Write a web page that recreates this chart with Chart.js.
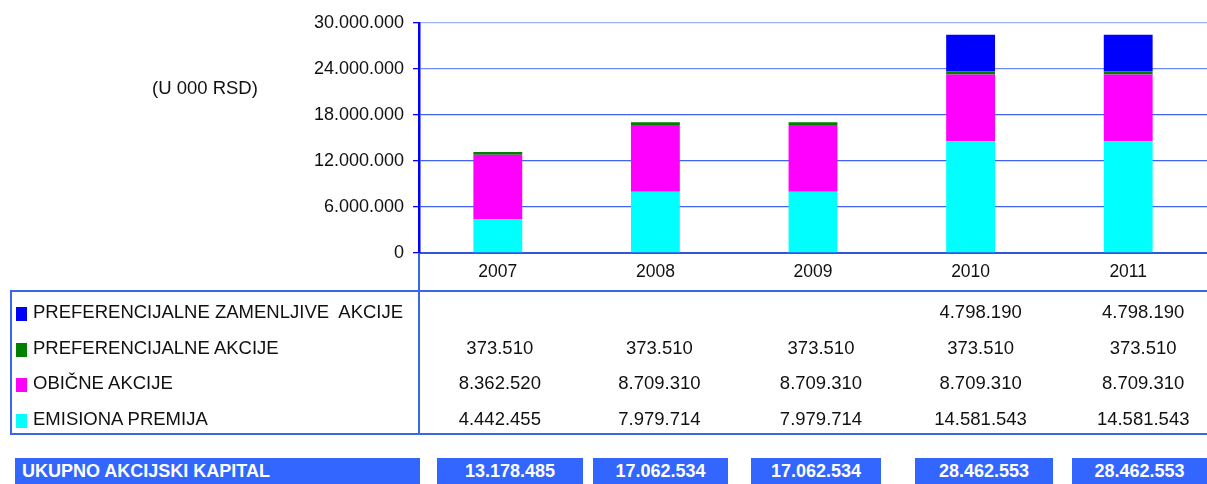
<!DOCTYPE html>
<html>
<head>
<meta charset="utf-8">
<script src="https://cdn.jsdelivr.net/npm/chart.js@4"></script>
<style>
    body { margin: 0; background: #fff; font-family: "Liberation Sans", Arial, sans-serif; }
    #wrap { position: relative; width: 1207px; height: 484px; overflow: hidden; }
    #chartBox { position: absolute; left: 0; top: 0; width: 1207px; height: 291px; }
    .abs { position: absolute; white-space: nowrap; }
    .unit { left: 152px; top: 77px; font-size: 18.5px; color: #111; }
    .tbl { left: 10px; top: 290px; width: 1210px; height: 141px; border: 2px solid #3a66ee; }
    .vline { left: 418px; top: 253px; width: 2px; height: 181px; background: #3a66ee; }
    .lab { font-size: 18.5px; color: #111; left: 33px; }
    .sq { width: 11px; height: 14px; left: 16px; }
    .val { font-size: 18.5px; color: #111; text-align: center; width: 150px; }
    .tot { height: 27px; background: #3366ff; color: #fff; font-weight: bold; font-size: 18px; line-height: 27px; top: 458px; }
</style>
</head>
<body>
<div id="wrap">
    <div id="chartBox"><canvas id="kapitalChart" width="1207" height="291"></canvas></div>
    <div class="abs unit">(U 000 RSD)</div>
    <div class="abs tbl"></div>
    <div class="abs vline"></div>
</div>
<script>
// Podaci sa slike (u 000 RSD)
const years = ['2007', '2008', '2009', '2010', '2011'];
const emisionaPremija = [4442455, 7979714, 7979714, 14581543, 14581543];
const obicneAkcije = [8362520, 8709310, 8709310, 8709310, 8709310];
const preferencijalneAkcije = [373510, 373510, 373510, 373510, 373510];
const zamenljiveAkcije = [null, null, null, 4798190, 4798190];
const ukupnoKapital = [13178485, 17062534, 17062534, 28462553, 28462553];
const yTicks = [0, 6000000, 12000000, 18000000, 24000000, 30000000];

// redovi tabele, od vrha ka dnu
const tableRows = [
    { label: 'PREFERENCIJALNE ZAMENLJIVE\u00a0 AKCIJE', color: '#0000ff', values: zamenljiveAkcije },
    { label: 'PREFERENCIJALNE AKCIJE', color: '#008000', values: preferencijalneAkcije },
    { label: 'OBIČNE AKCIJE', color: '#ff00ff', values: obicneAkcije },
    { label: 'EMISIONA PREMIJA', color: '#00ffff', values: emisionaPremija }
];

function fmt(n) {
    return String(n).replace(/\B(?=(\d{3})+(?!\d))/g, '.');
}

const wrap = document.getElementById('wrap');

function addDiv(cls, text, styles) {
    const d = document.createElement('div');
    d.className = 'abs ' + cls;
    if (text !== null) d.textContent = text;
    Object.assign(d.style, styles);
    wrap.appendChild(d);
    return d;
}

function buildTable(chart) {
    const xs = chart.scales.x;
    // kolone tabele su malo sire od kategorija grafika
    const colShift = [2, 4, 8, 10, 15];
    const rowTop = 294, rowH = 35.7;
    tableRows.forEach((row, r) => {
        const cy = rowTop + r * rowH + rowH / 2;
        addDiv('sq', null, { top: (cy - 5) + 'px', background: row.color });
        addDiv('lab', row.label, { top: (cy - 11) + 'px' });
        row.values.forEach((v, i) => {
            if (v === null) return;
            const cx = xs.getPixelForValue(i) + colShift[i];
            addDiv('val', fmt(v), { top: (cy - 11) + 'px', left: (cx - 75) + 'px' });
        });
    });

    // red sa ukupnim kapitalom
    addDiv('tot', 'UKUPNO AKCIJSKI KAPITAL', { left: '15px', width: '398px', paddingLeft: '7px' });
    const boxes = [[437, 146], [593, 135], [751, 130], [915, 138], [1072, 135]];
    ukupnoKapital.forEach((v, i) => {
        addDiv('tot', fmt(v), { left: boxes[i][0] + 'px', width: boxes[i][1] + 'px', textAlign: 'center' });
    });
}

const ctx = document.getElementById('kapitalChart').getContext('2d');

new Chart(ctx, {
    type: 'bar',
    data: {
        labels: years,
        datasets: [
            { label: 'EMISIONA PREMIJA', data: emisionaPremija, backgroundColor: '#00ffff' },
            { label: 'OBIČNE AKCIJE', data: obicneAkcije, backgroundColor: '#ff00ff' },
            { label: 'PREFERENCIJALNE AKCIJE', data: preferencijalneAkcije, backgroundColor: '#008000' },
            { label: 'PREFERENCIJALNE ZAMENLJIVE AKCIJE', data: zamenljiveAkcije, backgroundColor: '#0000ff' }
        ]
    },
    options: {
        responsive: false,
        animation: false,
        layout: { padding: { top: 23, left: 0, right: 0, bottom: 0 } },
        datasets: { bar: { barPercentage: 0.31, categoryPercentage: 1, borderWidth: 0 } },
        plugins: { legend: { display: false }, tooltip: { enabled: false } },
        scales: {
            x: {
                stacked: true,
                grid: { display: false, drawTicks: false },
                border: { color: '#3355dd', width: 2 },
                ticks: { padding: 9, color: '#111', font: { family: 'Liberation Sans', size: 17.5 } },
                afterFit: s => { s.height = 38; }
            },
            y: {
                stacked: true,
                min: 0,
                max: 30000000,
                afterBuildTicks: s => { s.ticks = yTicks.map(v => ({ value: v })); },
                grid: {
                    color: ['#3f63ee', '#3f63ee', '#3f63ee', '#3f63ee', '#6f8cf2', '#9fb2f6'],
                    tickColor: '#0000ff',
                    tickLength: 6,
                    lineWidth: 1.3
                },
                border: { color: '#0000ff', width: 2.5 },
                ticks: {
                    padding: 9,
                    color: '#111',
                    font: { family: 'Liberation Sans', size: 18 },
                    callback: v => fmt(v)
                },
                afterFit: s => { s.width = 419; }
            }
        }
    },
    plugins: [{
        id: 'tabela',
        afterRender: (chart) => {
            if (!chart.$tabela) { chart.$tabela = true; buildTable(chart); }
        }
    }]
});
</script>
</body>
</html>
